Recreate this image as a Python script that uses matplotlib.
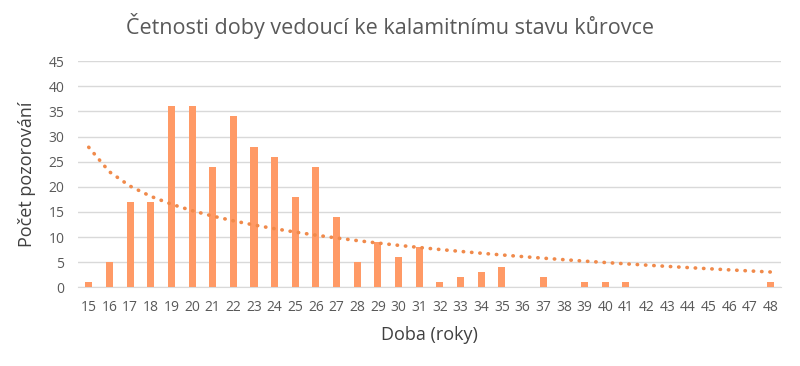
import numpy as np
import matplotlib
matplotlib.use("Agg")
import matplotlib.pyplot as plt

plt.rcParams['font.family'] = ['Open Sans', 'DejaVu Sans']

years = list(range(15, 49))
counts = [1, 5, 17, 17, 36, 36, 24, 34, 28, 26, 18, 24, 14, 5, 9, 6, 8,
          1, 2, 3, 4, 0, 2, 0, 1, 1, 1, 0, 0, 0, 0, 0, 0, 1]
title = "Četnosti doby vedoucí ke kalamitnímu stavu kůrovce"
xlabel = "Doba (roky)"
ylabel = "Počet pozorování"

fig = plt.figure(figsize=(8, 3.66), dpi=100)
ax = fig.add_axes([0.098, 0.215, 0.878, 0.618])

x = np.arange(len(years))
bar_color = '#FF9A66'
ax.bar(x, counts, width=0.34, color=bar_color, zorder=3)

# logarithmic trend line (least squares on ln of position), like Excel
idx = x + 1
b, a = np.polyfit(np.log(idx), counts, 1)
trend = a + b * np.log(idx)
ax.plot(x, trend, color='#F08A4B', linestyle=(0, (0.1, 2.2)), linewidth=2.6,
        dash_capstyle='round', zorder=4)

ax.set_xlim(-0.5, len(years) - 0.5)
ax.set_ylim(0, 45)
ax.set_yticks(range(0, 46, 5))
ax.set_xticks(x)
ax.set_xticklabels([str(y) for y in years])
ax.grid(axis='y', color='#D9D9D9', linewidth=1, zorder=0)
for s in ['top', 'right', 'left']:
    ax.spines[s].set_visible(False)
ax.spines['bottom'].set_color('#D9D9D9')
ax.tick_params(axis='both', length=0, colors='#595959', labelsize=10)
ax.tick_params(axis='x', pad=9)
ax.tick_params(axis='y', pad=10)

ax.set_xlabel(xlabel, fontsize=13, color='#404040', labelpad=8)
ax.set_ylabel(ylabel, fontsize=13, color='#404040', labelpad=9)
fig.text(0.488, 0.93, title, ha='center', va='center', fontsize=15.5, color='#595959')

fig.savefig('out.png', dpi=100)
